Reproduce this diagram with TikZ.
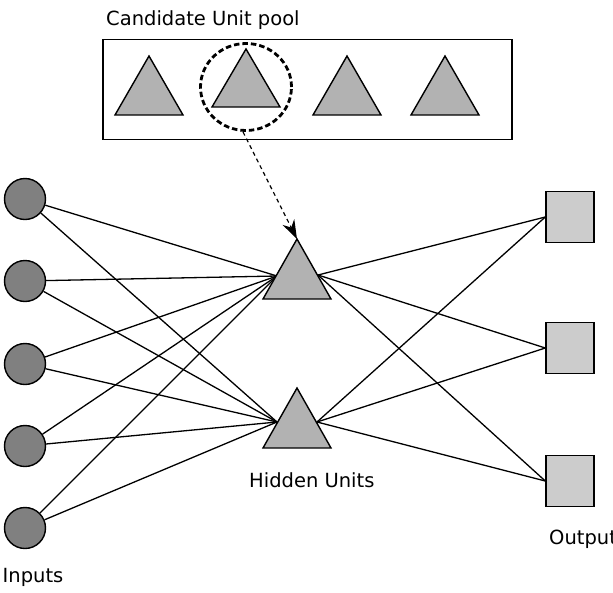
\documentclass[tikz,border=0pt]{standalone}
\usepackage{fontspec}
\setmainfont{DejaVu Sans}
\usetikzlibrary{arrows.meta,shapes.geometric}
\begin{document}
\begin{tikzpicture}[x=1pt,y=-1pt,
  inunit/.style={circle,draw=black,line width=1.4pt,fill=black!50,minimum size=41pt,inner sep=0pt},
  outunit/.style={rectangle,draw=black,line width=1.4pt,fill=black!20,minimum width=48pt,minimum height=51pt,inner sep=0pt},
  tri/.style={draw=black,line width=1.4pt,fill=black!30,line join=miter},
  conn/.style={draw=black,line width=1.3pt},
  lbl/.style={inner sep=0pt,anchor=base west,font=\fontsize{19.5}{23}\selectfont},
  pick/.style={ellipse,draw=black,line width=2.8pt,dash pattern=on 5.5pt off 3pt,minimum width=91pt,minimum height=87pt,inner sep=0pt},
  pickarrow/.style={draw=black,line width=1.2pt,dash pattern=on 4pt off 3.5pt,-{Stealth[length=19pt,width=13pt]}}
]
\useasboundingbox (0,0) rectangle (613,592);
% labels
\node[lbl] (lpool) at (106,25) {Candidate Unit pool};
\node[lbl] (lhid) at (249,487) {Hidden Units};
\node[lbl] (lin) at (2.5,582) {Inputs};
\node[lbl] (lout) at (549,544) {Outputs};
% pool box
\node[draw=black,line width=1.4pt,minimum width=409pt,minimum height=100pt,inner sep=0pt] (pool) at (307.5,89.5) {};
\path[tri] (115,115) -- (149,56) -- (183,115) -- cycle;
\path[tri] (212,107) -- (246,49) -- (280,107) -- cycle;
\path[tri] (313,115) -- (347,56) -- (381,115) -- cycle;
\path[tri] (411,115) -- (445,56) -- (479,115) -- cycle;
\node[pick] (sel) at (246,87) {};
% inputs
\node[inunit] (i1) at (25,199) {};
\node[inunit] (i2) at (25,281) {};
\node[inunit] (i3) at (25,364) {};
\node[inunit] (i4) at (25,446) {};
\node[inunit] (i5) at (25,528) {};
% outputs
\node[outunit] (o1) at (570,217) {};
\node[outunit] (o2) at (570,348) {};
\node[outunit] (o3) at (570,481) {};
% hidden connection points
\coordinate (hta) at (297,239);
\coordinate (htl) at (277,276);
\coordinate (htr) at (318,275);
\coordinate (hbl) at (277,422);
\coordinate (hbr) at (317,422);
\coordinate (selb) at ([xshift=-3pt]sel.south);
% connections
\foreach \i in {i1,i2,i3,i4,i5}{
  \draw[conn] (\i) -- (htl);
  \draw[conn] (\i) -- (hbl);
}
\foreach \o in {o1,o2,o3}{
  \draw[conn] (htr) -- (\o.west);
  \draw[conn] (hbr) -- (\o.west);
}
% hidden triangles
\path[tri] (263,299) -- (297,239) -- (331,299) -- cycle;
\path[tri] (263,448) -- (297,388) -- (331,448) -- cycle;
% dashed arrow
\draw[pickarrow] (selb) -- (hta);
\end{tikzpicture}
\end{document}
